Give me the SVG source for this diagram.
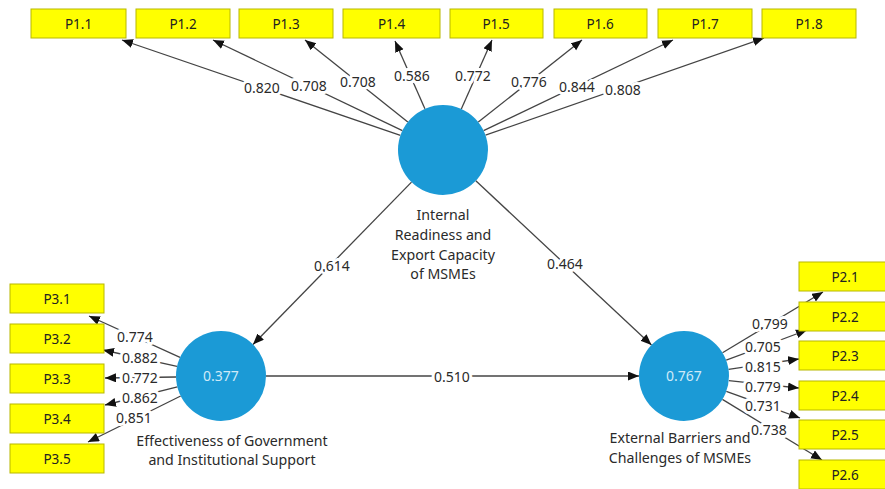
<svg xmlns="http://www.w3.org/2000/svg" width="885" height="489" viewBox="0 0 885 489">
<defs>
<marker id="ah" markerUnits="userSpaceOnUse" markerWidth="12" markerHeight="10" refX="11" refY="4.5" orient="auto">
<path d="M0,0 L11,4.5 L0,9 Z" fill="#111"/>
</marker>
<style>
.box{fill:#FFFF00;stroke:#B8B800;stroke-width:1}
.bt{font-family:"Noto Sans","Open Sans",sans-serif;font-size:13.5px;fill:#222;text-anchor:middle}
.lv{fill:#1B9AD6}
.lvt{font-family:"Noto Sans","Open Sans",sans-serif;font-size:14.2px;fill:#2a2a2a;text-anchor:middle}
.in{font-family:"Noto Sans","Open Sans",sans-serif;font-size:14px;fill:#CFEAF8;text-anchor:middle}
.c{stroke:#444;stroke-width:1.3;fill:none;marker-end:url(#ah)}
.lb{font-family:"Noto Sans","Open Sans",sans-serif;font-size:14px;fill:#2a2a2a;text-anchor:middle;stroke:#fff;stroke-width:6;paint-order:stroke;stroke-linejoin:round}
</style>
</defs>
<rect width="885" height="489" fill="#fff"/>
<g id="connectors">
<line class="c" x1="400.4" y1="135.4" x2="122" y2="40"/>
<line class="c" x1="402.4" y1="130.6" x2="213" y2="40"/>
<line class="c" x1="407.8" y1="122" x2="305" y2="40"/>
<line class="c" x1="424.9" y1="108.8" x2="395" y2="41"/>
<line class="c" x1="461.3" y1="108.9" x2="492" y2="40"/>
<line class="c" x1="478.3" y1="122.1" x2="582" y2="40"/>
<line class="c" x1="483.6" y1="130.6" x2="673" y2="40"/>
<line class="c" x1="485.5" y1="135.2" x2="764" y2="38"/>
<line class="c" x1="180" y1="357.4" x2="89" y2="316"/>
<line class="c" x1="177" y1="366.3" x2="103" y2="350"/>
<line class="c" x1="176" y1="377" x2="105" y2="378"/>
<line class="c" x1="177.4" y1="386.9" x2="105" y2="405"/>
<line class="c" x1="180.7" y1="396" x2="88" y2="442"/>
<line class="c" x1="722.5" y1="352.7" x2="823" y2="292"/>
<line class="c" x1="726.2" y1="360.2" x2="807" y2="330"/>
<line class="c" x1="728.5" y1="369.4" x2="799" y2="359"/>
<line class="c" x1="728.8" y1="380.7" x2="799" y2="388"/>
<line class="c" x1="726.3" y1="391.3" x2="800" y2="418"/>
<line class="c" x1="722.4" y1="399.4" x2="822" y2="460"/>
<line class="c" x1="411.5" y1="182.1" x2="253" y2="344.5"/>
<line class="c" x1="475.8" y1="180.8" x2="651.5" y2="345"/>
<line class="c" x1="266" y1="376" x2="639" y2="376"/>
<text class="lb" x="262" y="93">0.820</text>
<text class="lb" x="309" y="91">0.708</text>
<text class="lb" x="358" y="87">0.708</text>
<text class="lb" x="412" y="81">0.586</text>
<text class="lb" x="473" y="81">0.772</text>
<text class="lb" x="529" y="87">0.776</text>
<text class="lb" x="577" y="92">0.844</text>
<text class="lb" x="623" y="95">0.808</text>
<text class="lb" x="135" y="342">0.774</text>
<text class="lb" x="140" y="363">0.882</text>
<text class="lb" x="140" y="383">0.772</text>
<text class="lb" x="140" y="403">0.862</text>
<text class="lb" x="134" y="423">0.851</text>
<text class="lb" x="770" y="329">0.799</text>
<text class="lb" x="763" y="352">0.705</text>
<text class="lb" x="763" y="372">0.815</text>
<text class="lb" x="763" y="392">0.779</text>
<text class="lb" x="763" y="411">0.731</text>
<text class="lb" x="769" y="435">0.738</text>
<text class="lb" x="332" y="271">0.614</text>
<text class="lb" x="565" y="269">0.464</text>
<text class="lb" x="452" y="382">0.510</text>
</g>
<g id="P1.1"><rect class="box" x="31" y="9" width="95" height="29"/><text class="bt" x="78.5" y="28.5">P1.1</text></g>
<g id="P1.2"><rect class="box" x="136" y="9" width="94" height="29"/><text class="bt" x="183" y="28.5">P1.2</text></g>
<g id="P1.3"><rect class="box" x="239" y="9" width="94" height="29"/><text class="bt" x="286" y="28.5">P1.3</text></g>
<g id="P1.4"><rect class="box" x="343" y="9" width="97" height="29"/><text class="bt" x="391.5" y="28.5">P1.4</text></g>
<g id="P1.5"><rect class="box" x="450" y="9" width="93" height="29"/><text class="bt" x="496" y="28.5">P1.5</text></g>
<g id="P1.6"><rect class="box" x="554" y="9" width="93" height="29"/><text class="bt" x="600" y="28.5">P1.6</text></g>
<g id="P1.7"><rect class="box" x="658" y="9" width="94" height="29"/><text class="bt" x="705" y="28.5">P1.7</text></g>
<g id="P1.8"><rect class="box" x="762" y="9" width="94" height="29"/><text class="bt" x="809" y="28.5">P1.8</text></g>
<g id="P3.1"><rect class="box" x="10" y="284" width="94" height="29"/><text class="bt" x="57" y="303.5">P3.1</text></g>
<g id="P3.2"><rect class="box" x="10" y="324" width="94" height="29"/><text class="bt" x="57" y="343.5">P3.2</text></g>
<g id="P3.3"><rect class="box" x="10" y="364" width="94" height="29"/><text class="bt" x="57" y="383.5">P3.3</text></g>
<g id="P3.4"><rect class="box" x="10" y="404" width="94" height="29"/><text class="bt" x="57" y="423.5">P3.4</text></g>
<g id="P3.5"><rect class="box" x="10" y="444" width="94" height="29"/><text class="bt" x="57" y="463.5">P3.5</text></g>
<g id="P2.1"><rect class="box" x="799" y="262" width="94" height="29"/><text class="bt" x="845" y="281.5">P2.1</text></g>
<g id="P2.2"><rect class="box" x="799" y="302" width="94" height="29"/><text class="bt" x="845" y="321.5">P2.2</text></g>
<g id="P2.3"><rect class="box" x="799" y="341" width="94" height="29"/><text class="bt" x="845" y="360.5">P2.3</text></g>
<g id="P2.4"><rect class="box" x="799" y="381" width="94" height="29"/><text class="bt" x="845" y="400.5">P2.4</text></g>
<g id="P2.5"><rect class="box" x="799" y="420" width="94" height="29"/><text class="bt" x="845" y="439.5">P2.5</text></g>
<g id="P2.6"><rect class="box" x="799" y="460" width="94" height="29"/><text class="bt" x="845" y="479.5">P2.6</text></g>
<g id="internal">
<circle class="lv" cx="443" cy="150" r="45"/>
<text class="lvt" x="443" y="220">Internal</text>
<text class="lvt" x="443" y="240">Readiness and</text>
<text class="lvt" x="443" y="260">Export Capacity</text>
<text class="lvt" x="443" y="279">of MSMEs</text>
</g>
<g id="government">
<circle class="lv" cx="221" cy="376" r="45"/>
<text class="in" x="221" y="381">0.377</text>
<text class="lvt" x="232" y="446">Effectiveness of Government</text>
<text class="lvt" x="232" y="465">and Institutional Support</text>
</g>
<g id="barriers">
<circle class="lv" cx="684" cy="376" r="45"/>
<text class="in" x="684" y="381">0.767</text>
<text class="lvt" x="680" y="443">External Barriers and</text>
<text class="lvt" x="680" y="463">Challenges of MSMEs</text>
</g>
</svg>
